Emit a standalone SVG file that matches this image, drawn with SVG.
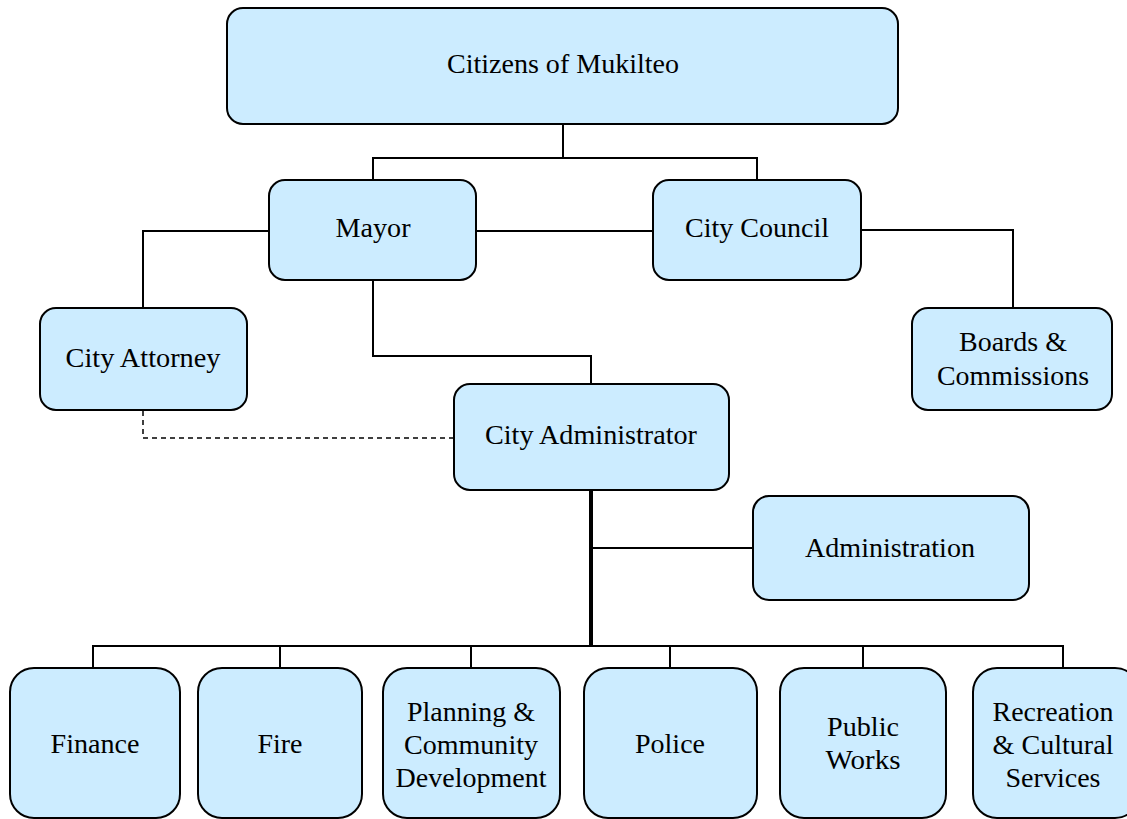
<svg xmlns="http://www.w3.org/2000/svg" width="1127" height="819" viewBox="0 0 1127 819">
<style>
.box{fill:#CCECFF;stroke:#000;stroke-width:2}
text{font-family:'Liberation Serif','DejaVu Serif','Noto Serif',serif;font-size:27px;fill:#000;text-anchor:middle}
.c{fill:none;stroke:#000;stroke-width:2}
.thick{fill:none;stroke:#000;stroke-width:4}
.dash{fill:none;stroke:#000;stroke-width:1.5;stroke-dasharray:5 4}
</style>
<rect width="1127" height="819" fill="#fff"/>
<g id="connectors">
<path class="c" d="M563 124V158M373 180V158H757V180"/>
<path class="c" d="M476 231H653"/>
<path class="c" d="M268 231H143V308"/>
<path class="c" d="M861 230H1013V308"/>
<path class="c" d="M373 280V356H591V384"/>
<path class="dash" d="M143 411V438H454"/>
<path class="thick" d="M591 490V647"/>
<path class="c" d="M591 548H753"/>
<path class="c" d="M93 668V646H1063V668M280 646V668M471 646V668M670 646V668M863 646V668"/>
</g>
<g id="citizens"><rect class="box" x="227" y="8" width="671" height="116" rx="16"/><text x="563" y="73" textLength="232" lengthAdjust="spacingAndGlyphs">Citizens of Mukilteo</text></g>
<g id="mayor"><rect class="box" x="269" y="180" width="207" height="100" rx="16"/><text x="373" y="237" textLength="75" lengthAdjust="spacingAndGlyphs">Mayor</text></g>
<g id="council"><rect class="box" x="653" y="180" width="208" height="100" rx="16"/><text x="757" y="237" textLength="144" lengthAdjust="spacingAndGlyphs">City Council</text></g>
<g id="attorney"><rect class="box" x="40" y="308" width="207" height="102" rx="16"/><text x="143" y="367" textLength="155" lengthAdjust="spacingAndGlyphs">City Attorney</text></g>
<g id="boards"><rect class="box" x="912" y="308" width="200" height="102" rx="16"/><text x="1013" y="351" textLength="108" lengthAdjust="spacingAndGlyphs">Boards &amp;</text><text x="1013" y="385" textLength="152" lengthAdjust="spacingAndGlyphs">Commissions</text></g>
<g id="administrator"><rect class="box" x="454" y="384" width="275" height="106" rx="16"/><text x="591" y="444" textLength="212" lengthAdjust="spacingAndGlyphs">City Administrator</text></g>
<g id="administration"><rect class="box" x="753" y="496" width="276" height="104" rx="16"/><text x="890" y="557" textLength="170" lengthAdjust="spacingAndGlyphs">Administration</text></g>
<g id="finance"><rect class="box" x="10" y="668" width="170" height="150" rx="24"/><text x="95" y="753" textLength="89" lengthAdjust="spacingAndGlyphs">Finance</text></g>
<g id="fire"><rect class="box" x="198" y="668" width="164" height="150" rx="24"/><text x="280" y="753" textLength="45" lengthAdjust="spacingAndGlyphs">Fire</text></g>
<g id="planning"><rect class="box" x="383" y="668" width="177" height="150" rx="24"/><text x="471" y="721" textLength="128" lengthAdjust="spacingAndGlyphs">Planning &amp;</text><text x="471" y="754" textLength="134" lengthAdjust="spacingAndGlyphs">Community</text><text x="471" y="787" textLength="151" lengthAdjust="spacingAndGlyphs">Development</text></g>
<g id="police"><rect class="box" x="584" y="668" width="173" height="150" rx="24"/><text x="670" y="753" textLength="70" lengthAdjust="spacingAndGlyphs">Police</text></g>
<g id="publicworks"><rect class="box" x="780" y="668" width="166" height="150" rx="24"/><text x="863" y="736" textLength="72" lengthAdjust="spacingAndGlyphs">Public</text><text x="863" y="769" textLength="75" lengthAdjust="spacingAndGlyphs">Works</text></g>
<g id="recreation"><rect class="box" x="973" y="668" width="166" height="150" rx="24"/><text x="1053" y="721" textLength="121" lengthAdjust="spacingAndGlyphs">Recreation</text><text x="1053" y="754" textLength="121" lengthAdjust="spacingAndGlyphs">&amp; Cultural</text><text x="1053" y="787" textLength="95" lengthAdjust="spacingAndGlyphs">Services</text></g>
</svg>
